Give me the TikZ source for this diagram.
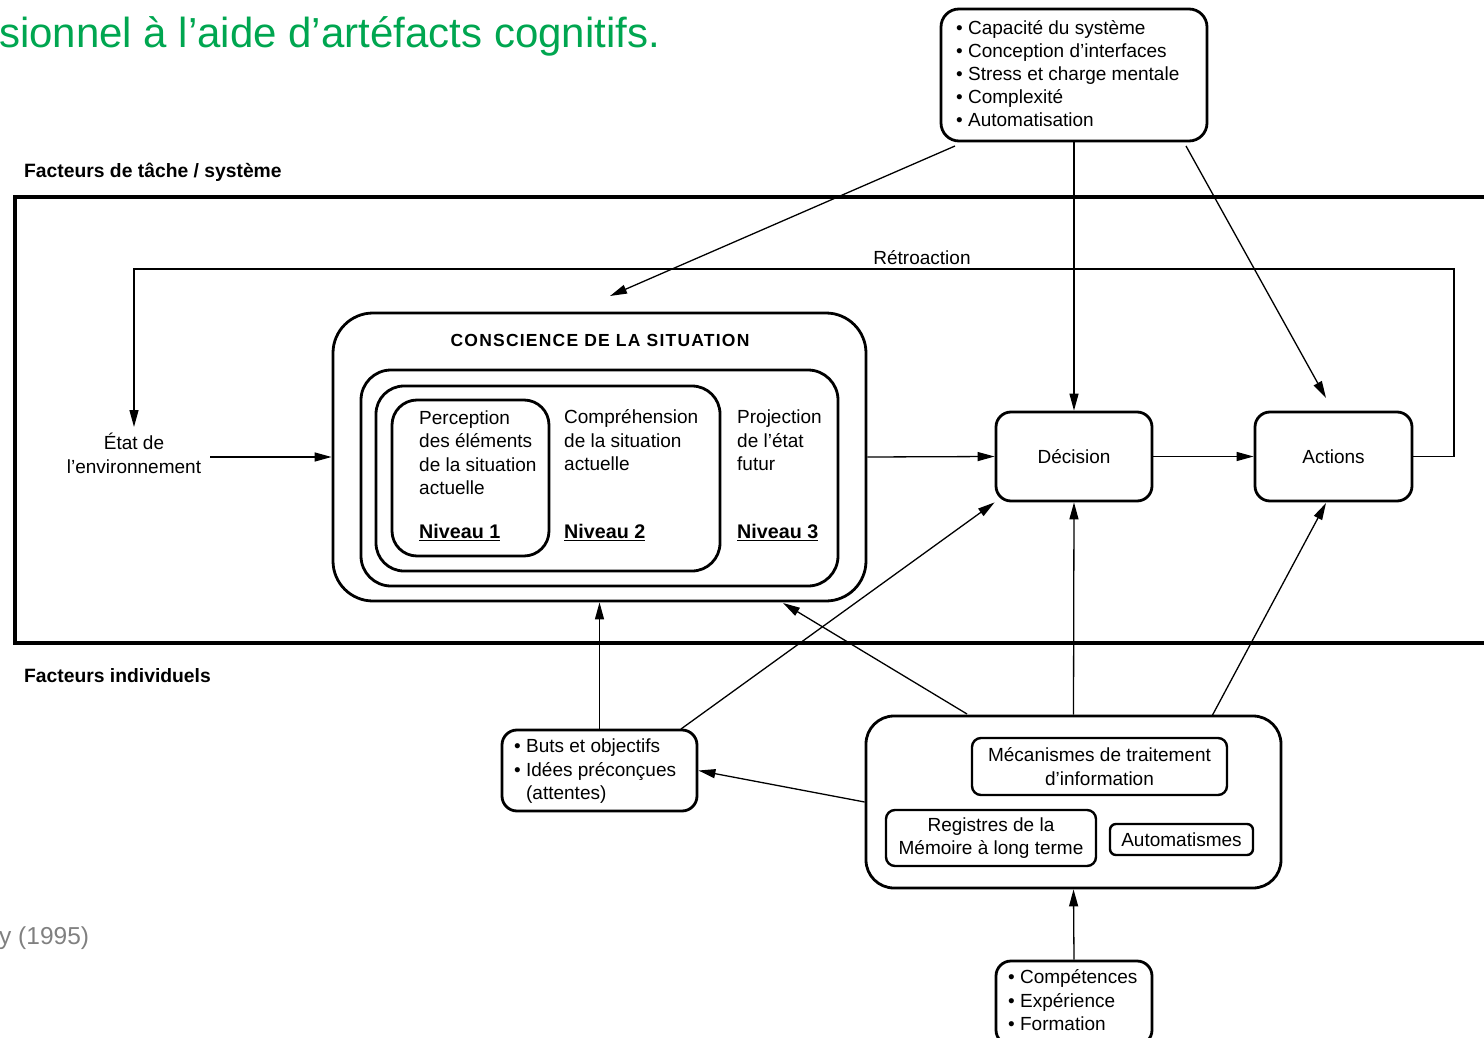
\documentclass[tikz,border=0pt]{standalone}
\usepackage{fontspec}
\setmainfont{Liberation Sans}
\usetikzlibrary{arrows.meta}
\definecolor{sagreen}{RGB}{0,166,80}
\definecolor{refgray}{RGB}{128,128,128}
\begin{document}
\begin{tikzpicture}[x=1pt,y=-1pt,
  box/.style={draw, line width=2.8pt, rounded corners=#1, inner sep=0pt, align=center,
    font=\fontsize{19}{23.5}\selectfont},
  box/.default=15pt,
  sbox/.style={draw, line width=2.4pt, rounded corners=#1, inner sep=0pt, align=center,
    font=\fontsize{19}{23.5}\selectfont},
  sbox/.default=9pt,
  conn/.style={line width=1.3pt, -{Triangle[length=17pt,width=9pt]}},
  txt/.style={font=\fontsize{19}{23.5}\selectfont, inner sep=0pt, align=left},
  niv/.style={font=\bfseries\fontsize{19.7}{22}\selectfont, inner sep=0pt},
  lbl/.style={font=\bfseries\fontsize{19.3}{22}\selectfont, inner sep=0pt}]
\useasboundingbox (0,0) rectangle (1484,1038);

% header / footer fragments
\node[font=\fontsize{42}{46}\selectfont, text=sagreen, anchor=base west, inner sep=0pt] (title) at (-1,48) {sionnel à l’aide d’artéfacts cognitifs.};
\node[font=\fontsize{24.5}{28}\selectfont, text=refgray, anchor=base west, inner sep=0pt] (src) at (-1,944) {y (1995)};

% task / system frame
\draw[line width=4pt] (15,197) rectangle (1495,643);
\node[lbl, anchor=base west] (ft) at (24,178) {Facteurs de tâche / système};
\node[lbl, anchor=base west] (fi) at (24,682) {Facteurs individuels};

% top factors box
\node[box=18pt, minimum width=266pt, minimum height=132pt] (top) at (1074,75) {};
\node[txt, font=\fontsize{19}{23}\selectfont, anchor=base west] (toptext) at (956,126.5) {• Capacité du système\\• Conception d’interfaces\\• Stress et charge mentale\\• Complexité\\• Automatisation};

% environment
\node[txt, font=\fontsize{19}{24}\selectfont, align=center, anchor=base] (env) at (134,473.5) {État de\\l'environnement};

% situation awareness
\node[box=40pt, minimum width=533pt, minimum height=288pt] (cs) at (599.5,457) {};
\node[font=\bfseries\fontsize{17.5}{20}\selectfont\addfontfeatures{LetterSpace=7}, anchor=base, inner sep=0pt] (cstitle) at (600,346.5) {CONSCIENCE DE LA SITUATION};
\node[box=30pt, minimum width=477pt, minimum height=216pt] (l3) at (599.5,478) {};
\node[box=28pt, minimum width=344pt, minimum height=185pt] (l2) at (548,478.5) {};
\node[box=25pt, minimum width=157pt, minimum height=156pt] (l1) at (470.5,478) {};
\node[txt, anchor=base west] (p1) at (419,494.5) {Perception\\des éléments\\de la situation\\actuelle};
\node[txt, anchor=base west] (p2) at (564,470.5) {Compréhension\\de la situation\\actuelle};
\node[txt, anchor=base west] (p3) at (737,470.5) {Projection\\de l'état\\futur};
\node[niv, anchor=base west] (n1) at (419,538.5) {\underline{Niveau 1}};
\node[niv, anchor=base west] (n2) at (564,538.5) {\underline{Niveau 2}};
\node[niv, anchor=base west] (n3) at (737,538.5) {\underline{Niveau 3}};

% decision / actions
\node[box=15pt, minimum width=156pt, minimum height=89pt] (dec) at (1074,456.5) {Décision};
\node[box=15pt, minimum width=157pt, minimum height=89pt] (act) at (1333.5,456.5) {Actions};

% individual factors
\node[box=15pt, minimum width=195pt, minimum height=81pt] (buts) at (599.5,770.5) {};
\node[txt, anchor=base west] (butstext) at (514,799.5) {• Buts et objectifs\\• Idées préconçues\\\hphantom{•\ }(attentes)};
\node[box=28pt, minimum width=415pt, minimum height=172pt] (big) at (1073.5,802) {};
\node[sbox, minimum width=255pt, minimum height=57pt] (meca) at (1099.5,766.5) {Mécanismes de traitement\\d’information};
\node[sbox, minimum width=210pt, minimum height=56pt] (reg) at (991,838) {Registres de la\\Mémoire à long terme};
\node[sbox=6pt, minimum width=143pt, minimum height=31pt] (auto) at (1181.5,839.5) {Automatismes};
\node[box=15pt, minimum width=156pt, minimum height=84pt] (comp) at (1074,1003) {};
\node[txt, anchor=base west] (comptext) at (1008,1030.5) {• Compétences\\• Expérience\\• Formation};

% connectors
\coordinate (fbR) at (1454,269);
\coordinate (fbL) at (134,269);
\coordinate (fbEnd) at (134,427);
\draw[conn] (act.east) -| (fbR) -- (fbL) -- (fbEnd);
\node[txt, anchor=base] (retro) at (922,264) {Rétroaction};

\coordinate (envOut) at (210,457);
\draw[conn] (envOut) -- (cs.west);

\coordinate (t1s) at (955,146);
\coordinate (t1e) at (610,296);
\draw[conn] (t1s) -- (t1e);
\draw[conn] (top.south) -- (dec.north);
\coordinate (t3s) at (1186,146);
\coordinate (t3e) at (1326,398);
\draw[conn] (t3s) -- (t3e);

\draw[conn] (cs.east) -- (dec.west);
\draw[conn] (dec.east) -- (act.west);

\draw[conn] (buts.north) -- (cs.south);
\coordinate (b2s) at (681,729);
\draw[conn] (b2s) -- (dec.south west);
\coordinate (g1s) at (967,714);
\coordinate (g1e) at (783,603);
\draw[conn] (g1s) -- (g1e);
\draw[conn] (big.north) -- (dec.south);
\coordinate (g3s) at (1212,716);
\coordinate (g3e) at (1326,503);
\draw[conn] (g3s) -- (g3e);
\draw[conn] (big.west) -- (buts.east);
\draw[conn] (comp.north) -- (big.south);
\end{tikzpicture}
\end{document}
